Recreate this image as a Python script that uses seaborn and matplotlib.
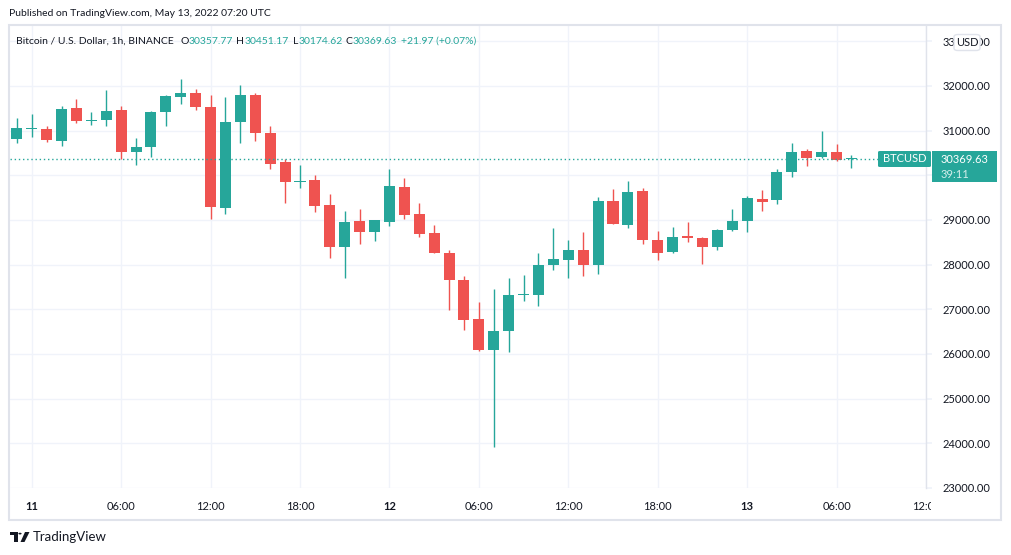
import numpy as np
import pandas as pd
import matplotlib.pyplot as plt
from matplotlib.patches import Rectangle, FancyBboxPatch, Polygon, Circle
from matplotlib.transforms import Bbox, TransformedBbox
import seaborn as sns

# hourly candles, hour 0 = May 11 00:00 UTC (first candle is May 10 23:00)
hours = np.arange(-1, 56)
opens = [30807, 31030, 31044, 30763, 31511, 31207, 31230, 31467, 30519, 30630,
         31407, 31763, 31844, 31533, 29274, 31185, 31800, 30956, 30289, 29852,
         29889, 29333, 28385, 28978, 28741, 28963, 29733, 29133, 28698, 28272,
         27666, 26791, 26080, 26507, 27315, 27315, 27988, 28100, 28317, 27988,
         29417, 28885, 29641, 28541, 28277, 28633, 28603, 28388, 28767, 28967,
         29471, 29457, 30080, 30540, 30414, 30518, 30357.77]
highs = [31289, 31378, 31111, 31556, 31711, 31422, 31911, 31556, 30844, 31430,
         31807, 32156, 31933, 31800, 31756, 32022, 31844, 31111, 30356, 30222,
         30000, 29578, 29200, 29244, 29010, 30133, 29933, 29378, 28878, 28339,
         27756, 27173, 27464, 27711, 27778, 28250, 28811, 28541, 28721, 29506,
         29686, 29865, 29708, 28743, 28848, 28960, 28610, 28790, 29249, 29538,
         29672, 30139, 30718, 30584, 31000, 30696, 30451.17]
lows = [30719, 30852, 30741, 30652, 31178, 31119, 31096, 30370, 30222, 30407,
        31096, 31607, 31467, 29022, 29133, 30719, 30763, 30141, 29378, 29711,
        29178, 28156, 27711, 28452, 28533, 28874, 29030, 28630, 28250, 26993,
        26529, 26058, 23911, 26036, 27180, 27068, 27891, 27696, 27741, 27786,
        28900, 28818, 28459, 28100, 28255, 28500, 28010, 28321, 28760, 28722,
        29212, 29368, 29969, 30213, 30377, 30325, 30174.62]
closes = [31067, 31067, 30785, 31489, 31207, 31244, 31444, 30519, 30644, 31422,
          31778, 31844, 31519, 29296, 31200, 31800, 30941, 30252, 29852, 29867,
          29319, 28385, 28956, 28741, 29000, 29756, 29119, 28696, 28257, 27651,
          26754, 26080, 26522, 27330, 27352, 28003, 28137, 28317, 28003, 29417,
          28908, 29619, 28549, 28257, 28626, 28589, 28388, 28781, 28982, 29494,
          29412, 30073, 30518, 30384, 30518, 30347, 30369.63]

price_ticks = [23000, 24000, 25000, 26000, 27000, 28000, 29000, 30000, 31000, 32000, 33000]
hidden_price = 30000  # sits under the last-price badge
time_ticks = [0, 6, 12, 18, 24, 30, 36, 42, 48, 54, 60]
time_labels = ['11', '06:00', '12:00', '18:00', '12', '06:00', '12:00', '18:00', '13', '06:00', '12:00']
day_labels = ['11', '12', '13']

df = pd.DataFrame({'hour': hours, 'open': opens, 'high': highs, 'low': lows, 'close': closes})
df['up'] = df['close'] >= df['open']

green = '#26a69a'
red = '#ef5350'
txt = '#131722'
grid = '#f0f3fa'
frame = '#e0e3eb'

sns.set_theme(style='white')
plt.rcParams['font.family'] = ['Lato', 'DejaVu Sans']

W, H = 1012, 555
fig = plt.figure(figsize=(W / 100, H / 100), dpi=100)
fig.patch.set_facecolor('white')

def fx(x):
    return x / W

def fy(y):
    return 1 - y / H

ax = fig.add_axes([fx(10), fy(488), fx(926) - fx(10), fy(25) - fy(488)])

# candles
for up, col in [(True, green), (False, red)]:
    d = df[df['up'] == up]
    ax.vlines(d['hour'], d['low'], d['high'], color=col, lw=1, zorder=3)
    bottom = np.minimum(d['open'], d['close'])
    height = np.maximum((d['close'] - d['open']).abs(), 25)
    ax.bar(d['hour'], height, 0.74, bottom=bottom, color=col, lw=0, zorder=3)

# last price dotted line
last = closes[-1]
ax.axhline(last, color=green, ls=(0, (1, 2)), lw=1, zorder=4)

ax.set_xlim(-1.456, 60)
ax.set_ylim(23000, 33365)
ax.set_xticks(time_ticks)
ax.set_xticklabels(time_labels)
ax.set_yticks(price_ticks)
ax.set_yticklabels(['' if p == hidden_price else '%.2f' % p for p in price_ticks])
ax.yaxis.tick_right()
ax.grid(True, color=grid, lw=1)
ax.set_axisbelow(True)
for s in ['top', 'left', 'bottom']:
    ax.spines[s].set_visible(False)
ax.spines['right'].set_color(frame)
ax.spines['right'].set_linewidth(1)
ax.tick_params(axis='y', length=4, color=grid, pad=8, labelsize=8, labelcolor=txt)
ax.tick_params(axis='x', length=4, color=grid, pad=5, labelsize=8, labelcolor=txt)
clip = TransformedBbox(Bbox([[0, 0], [fx(931), 1]]), fig.transFigure)
for lab in ax.get_xticklabels():
    if lab.get_text() in day_labels:
        lab.set_fontweight('bold')
    lab.set_clip_on(True)
    lab.set_clip_box(clip)

# outer frame
fig.add_artist(Rectangle((fx(9.5), fy(519.5)), fx(1001.5) - fx(9.5), fy(25) - fy(519.5),
                         transform=fig.transFigure, fill=False, ec=frame, lw=1.5))

# header
fig.text(fx(9), fy(14), 'Published on TradingView.com, May 13, 2022 07:20 UTC',
         fontsize=7.5, color=txt, va='center')
fig.text(fx(16), fy(41), 'Bitcoin / U.S. Dollar, 1h, BINANCE', fontsize=7.5, color=txt, va='center')
ohlc = [('O', '30357.77', 189), ('H', '30451.17', 245),
        ('L', '30174.62', 299), ('C', '30369.63', 353)]
for k, v, vx in ohlc:
    fig.text(fx(vx - 0.5), fy(41), k, fontsize=7.5, color=txt, va='center', ha='right')
    fig.text(fx(vx), fy(41), v, fontsize=7.5, color=green, va='center')
fig.text(fx(401), fy(41), '+21.97 (+0.07%)', fontsize=7.5, color=green, va='center')

# USD badge
fig.add_artist(FancyBboxPatch((fx(954), fy(50.5)), fx(980) - fx(954), fy(34.5) - fy(50.5),
                              boxstyle='round,pad=0,rounding_size=0.004', transform=fig.transFigure,
                              fc='white', ec=frame, lw=1, zorder=5))
fig.text(fx(967), fy(43), 'USD', fontsize=8, color=txt, ha='center', va='center', zorder=6)

# last price labels
fig.add_artist(FancyBboxPatch((fx(878), fy(167)), fx(931) - fx(878), fy(151) - fy(167),
                              boxstyle='round,pad=0,rounding_size=0.002', transform=fig.transFigure,
                              fc=green, ec='none', zorder=5))
fig.text(fx(904.5), fy(159), 'BTCUSD', fontsize=8, color='white', ha='center', va='center', zorder=6)
fig.add_artist(Rectangle((fx(932), fy(182)), fx(997) - fx(932), fy(151) - fy(182),
                         transform=fig.transFigure, fc=green, ec='none', zorder=5))
fig.text(fx(941), fy(159.5), '30369.63', fontsize=8, color='white', va='center', zorder=6)
fig.text(fx(941), fy(174), '39:11', fontsize=8, color='#d4eeeb', va='center', zorder=6)

# TradingView logo
fig.add_artist(Polygon([(fx(10), fy(532)), (fx(17.5), fy(532)), (fx(17.5), fy(542)),
                        (fx(14.5), fy(542)), (fx(14.5), fy(535)), (fx(10), fy(535))],
                       transform=fig.transFigure, fc=txt, ec='none'))
fig.add_artist(Circle((fx(20), fy(533.6)), 1.6 / W, transform=fig.transFigure, fc=txt, ec='none'))
fig.add_artist(Polygon([(fx(25), fy(532)), (fx(29.5), fy(532)), (fx(24.5), fy(542)), (fx(20.5), fy(542))],
                       transform=fig.transFigure, fc=txt, ec='none'))
fig.text(fx(33), fy(537), 'TradingView', fontsize=9.5, color=txt, va='center')

fig.savefig('out.png', dpi=100)
